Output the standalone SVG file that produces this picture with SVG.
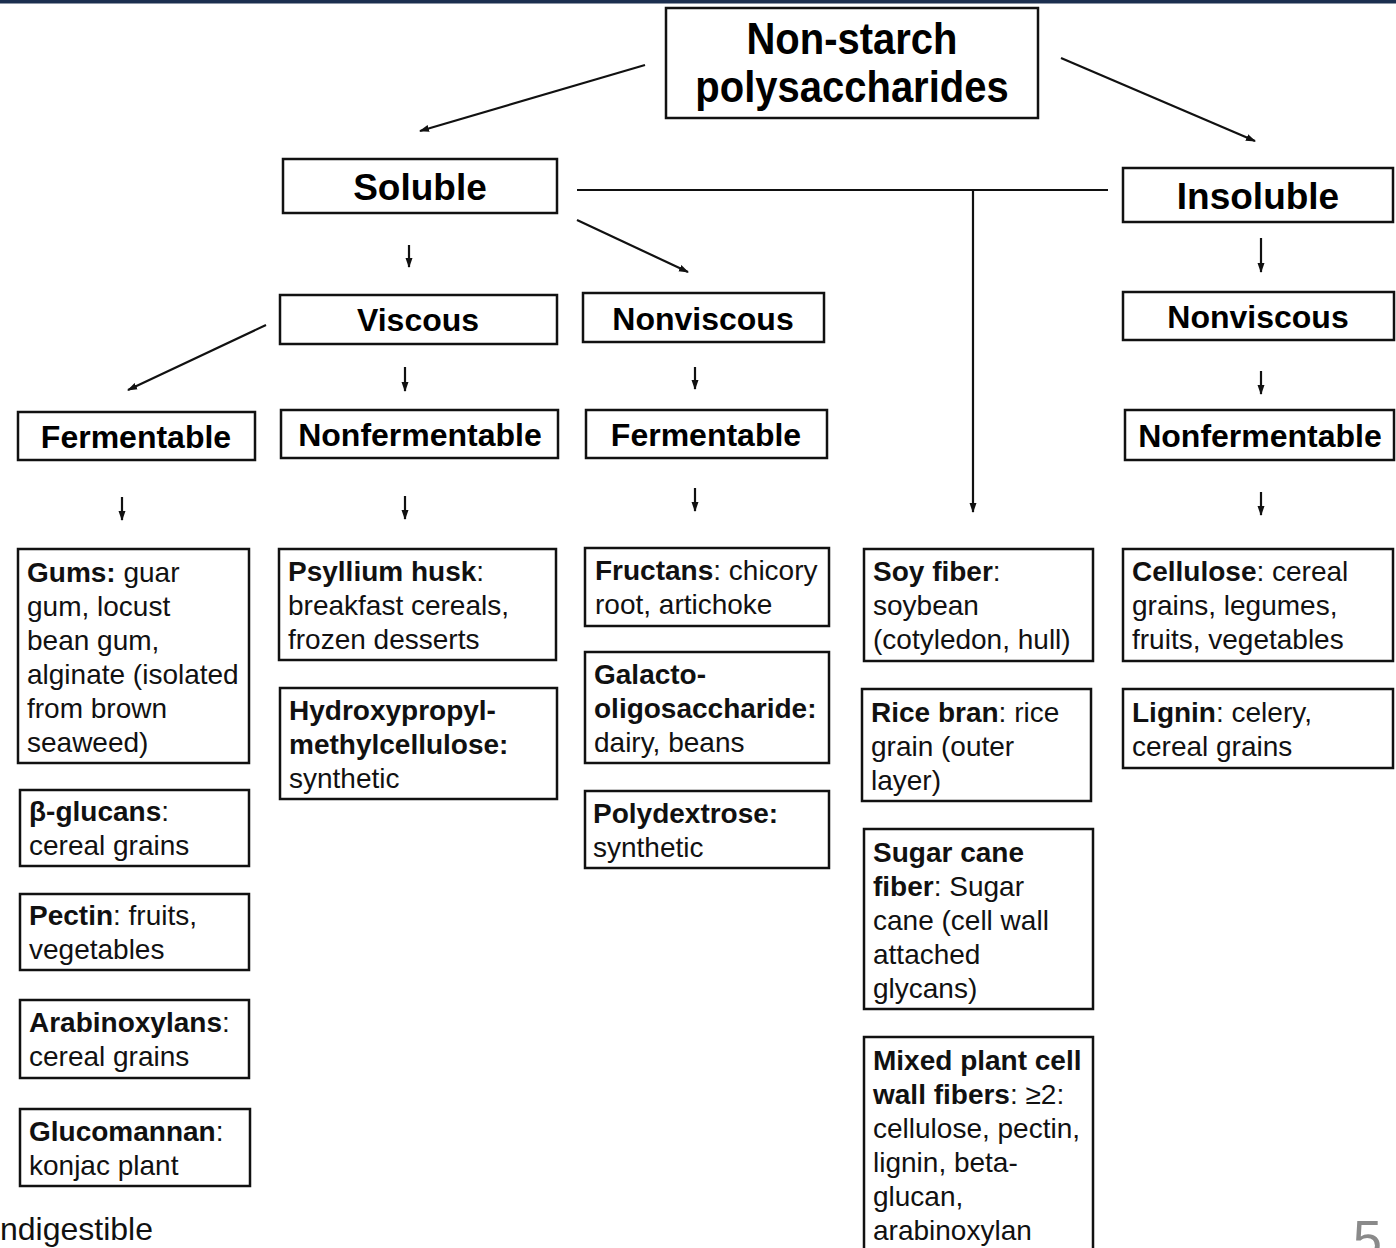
<svg xmlns="http://www.w3.org/2000/svg" width="1396" height="1248" viewBox="0 0 1396 1248">
<style>
.box{fill:#fff;stroke:#111;stroke-width:2.5}
.hd{font-family:"Liberation Sans",Arial,sans-serif;font-weight:bold;fill:#000;text-anchor:middle}
.lf{font-family:"Liberation Sans",Arial,sans-serif;font-size:28px;fill:#111}
.b{font-weight:bold}
.con{stroke:#111;stroke-width:2.2;fill:none}
</style>
<defs>
<marker id="ah" markerUnits="userSpaceOnUse" markerWidth="10" markerHeight="10" viewBox="0 0 10 10" refX="9" refY="5" orient="auto">
<path d="M0,1.5 L10,5 L0,8.5 Z" fill="#111"/>
</marker>
</defs>
<rect x="0" y="0" width="1396" height="3.5" fill="#1c2f4f"/>

<g id="connectors">
<line class="con" x1="645" y1="65" x2="420" y2="131" marker-end="url(#ah)"/>
<line class="con" x1="1061" y1="58" x2="1255" y2="141" marker-end="url(#ah)"/>
<line class="con" x1="577" y1="190" x2="1108" y2="190"/>
<line class="con" x1="973" y1="190" x2="973" y2="512" marker-end="url(#ah)"/>
<line class="con" x1="577" y1="220" x2="688" y2="272" marker-end="url(#ah)"/>
<line class="con" x1="409" y1="245" x2="409" y2="267" marker-end="url(#ah)"/>
<line class="con" x1="1261" y1="238" x2="1261" y2="272" marker-end="url(#ah)"/>
<line class="con" x1="266" y1="325" x2="128" y2="390" marker-end="url(#ah)"/>
<line class="con" x1="405" y1="367" x2="405" y2="391" marker-end="url(#ah)"/>
<line class="con" x1="695" y1="367" x2="695" y2="389" marker-end="url(#ah)"/>
<line class="con" x1="1261" y1="371" x2="1261" y2="394" marker-end="url(#ah)"/>
<line class="con" x1="122" y1="497" x2="122" y2="520" marker-end="url(#ah)"/>
<line class="con" x1="405" y1="496" x2="405" y2="519" marker-end="url(#ah)"/>
<line class="con" x1="695" y1="488" x2="695" y2="511" marker-end="url(#ah)"/>
<line class="con" x1="1261" y1="492" x2="1261" y2="515" marker-end="url(#ah)"/>
</g>

<g id="nsp"><rect class="box" x="666" y="8" width="372" height="110"/>
<text class="hd" font-size="40" transform="translate(852,54) scale(1,1.12)">Non-starch</text>
<text class="hd" font-size="40" transform="translate(852,102) scale(1,1.12)">polysaccharides</text></g>

<g id="soluble"><rect class="box" x="283" y="159" width="274" height="54"/>
<text class="hd" x="420" y="200" font-size="37">Soluble</text></g>
<g id="insoluble"><rect class="box" x="1123" y="168" width="270" height="54"/>
<text class="hd" x="1258" y="209" font-size="37">Insoluble</text></g>

<g id="viscous"><rect class="box" x="280" y="295" width="277" height="49"/>
<text class="hd" x="418" y="331" font-size="32">Viscous</text></g>
<g id="nonviscous-sol"><rect class="box" x="583" y="293" width="241" height="49"/>
<text class="hd" x="703" y="330" font-size="32">Nonviscous</text></g>
<g id="nonviscous-insol"><rect class="box" x="1123" y="292" width="271" height="48"/>
<text class="hd" x="1258" y="328" font-size="32">Nonviscous</text></g>

<g id="ferm-visc"><rect class="box" x="18" y="412" width="237" height="48"/>
<text class="hd" x="136" y="448" font-size="32">Fermentable</text></g>
<g id="nonferm-visc"><rect class="box" x="281" y="410" width="277" height="48"/>
<text class="hd" x="420" y="446" font-size="32">Nonfermentable</text></g>
<g id="ferm-nonvisc"><rect class="box" x="586" y="410" width="241" height="48"/>
<text class="hd" x="706" y="446" font-size="32">Fermentable</text></g>
<g id="nonferm-insol"><rect class="box" x="1125" y="410" width="269" height="50"/>
<text class="hd" x="1260" y="447" font-size="32">Nonfermentable</text></g>

<g id="gums"><rect class="box" x="18" y="549" width="231" height="214"/>
<text class="lf" x="27" y="582"><tspan class="b">Gums:</tspan> guar</text>
<text class="lf" x="27" y="616">gum, locust</text>
<text class="lf" x="27" y="650">bean gum,</text>
<text class="lf" x="27" y="684">alginate (isolated</text>
<text class="lf" x="27" y="718">from brown</text>
<text class="lf" x="27" y="752">seaweed)</text></g>

<g id="bglucans"><rect class="box" x="20" y="790" width="229" height="76"/>
<text class="lf" x="29" y="821"><tspan class="b">β-glucans</tspan>:</text>
<text class="lf" x="29" y="855">cereal grains</text></g>

<g id="pectin"><rect class="box" x="20" y="894" width="229" height="76"/>
<text class="lf" x="29" y="925"><tspan class="b">Pectin</tspan>: fruits,</text>
<text class="lf" x="29" y="959">vegetables</text></g>

<g id="arabinoxylans"><rect class="box" x="20" y="1000" width="229" height="78"/>
<text class="lf" x="29" y="1032"><tspan class="b">Arabinoxylans</tspan>:</text>
<text class="lf" x="29" y="1066">cereal grains</text></g>

<g id="glucomannan"><rect class="box" x="20" y="1109" width="230" height="77"/>
<text class="lf" x="29" y="1141"><tspan class="b">Glucomannan</tspan>:</text>
<text class="lf" x="29" y="1175">konjac plant</text></g>

<g id="psyllium"><rect class="box" x="279" y="549" width="277" height="111"/>
<text class="lf" x="288" y="581"><tspan class="b">Psyllium husk</tspan>:</text>
<text class="lf" x="288" y="615">breakfast cereals,</text>
<text class="lf" x="288" y="649">frozen desserts</text></g>

<g id="hpmc"><rect class="box" x="280" y="688" width="277" height="111"/>
<text class="lf b" x="289" y="720">Hydroxypropyl-</text>
<text class="lf b" x="289" y="754">methylcellulose:</text>
<text class="lf" x="289" y="788">synthetic</text></g>

<g id="fructans"><rect class="box" x="585" y="548" width="244" height="78"/>
<text class="lf" x="595" y="580"><tspan class="b">Fructans</tspan>: chicory</text>
<text class="lf" x="595" y="614">root, artichoke</text></g>

<g id="gos"><rect class="box" x="585" y="652" width="244" height="111"/>
<text class="lf b" x="594" y="684">Galacto-</text>
<text class="lf b" x="594" y="718">oligosaccharide:</text>
<text class="lf" x="594" y="752">dairy, beans</text></g>

<g id="polydextrose"><rect class="box" x="585" y="791" width="244" height="77"/>
<text class="lf b" x="593" y="823">Polydextrose:</text>
<text class="lf" x="593" y="857">synthetic</text></g>

<g id="soy"><rect class="box" x="864" y="549" width="229" height="112"/>
<text class="lf" x="873" y="581"><tspan class="b">Soy fiber</tspan>:</text>
<text class="lf" x="873" y="615">soybean</text>
<text class="lf" x="873" y="649">(cotyledon, hull)</text></g>

<g id="ricebran"><rect class="box" x="862" y="689" width="229" height="112"/>
<text class="lf" x="871" y="722"><tspan class="b">Rice bran</tspan>: rice</text>
<text class="lf" x="871" y="756">grain (outer</text>
<text class="lf" x="871" y="790">layer)</text></g>

<g id="sugarcane"><rect class="box" x="864" y="829" width="229" height="180"/>
<text class="lf b" x="873" y="862">Sugar cane</text>
<text class="lf" x="873" y="896"><tspan class="b">fiber</tspan>: Sugar</text>
<text class="lf" x="873" y="930">cane (cell wall</text>
<text class="lf" x="873" y="964">attached</text>
<text class="lf" x="873" y="998">glycans)</text></g>

<g id="mixed"><rect class="box" x="864" y="1037" width="229" height="230"/>
<text class="lf b" x="873" y="1070">Mixed plant cell</text>
<text class="lf" x="873" y="1104"><tspan class="b">wall fibers</tspan>: ≥2:</text>
<text class="lf" x="873" y="1138">cellulose, pectin,</text>
<text class="lf" x="873" y="1172">lignin, beta-</text>
<text class="lf" x="873" y="1206">glucan,</text>
<text class="lf" x="873" y="1240">arabinoxylan</text></g>

<g id="cellulose"><rect class="box" x="1123" y="549" width="270" height="112"/>
<text class="lf" x="1132" y="581"><tspan class="b">Cellulose</tspan>: cereal</text>
<text class="lf" x="1132" y="615">grains, legumes,</text>
<text class="lf" x="1132" y="649">fruits, vegetables</text></g>

<g id="lignin"><rect class="box" x="1123" y="689" width="270" height="79"/>
<text class="lf" x="1132" y="722"><tspan class="b">Lignin</tspan>: celery,</text>
<text class="lf" x="1132" y="756">cereal grains</text></g>

<text class="lf" x="0" y="1240" font-size="32" style="font-size:32px">ndigestible</text>
<text x="1353" y="1257" font-family="Liberation Sans,Arial,sans-serif" font-size="52" fill="#8a8a8a">5</text>
</svg>
